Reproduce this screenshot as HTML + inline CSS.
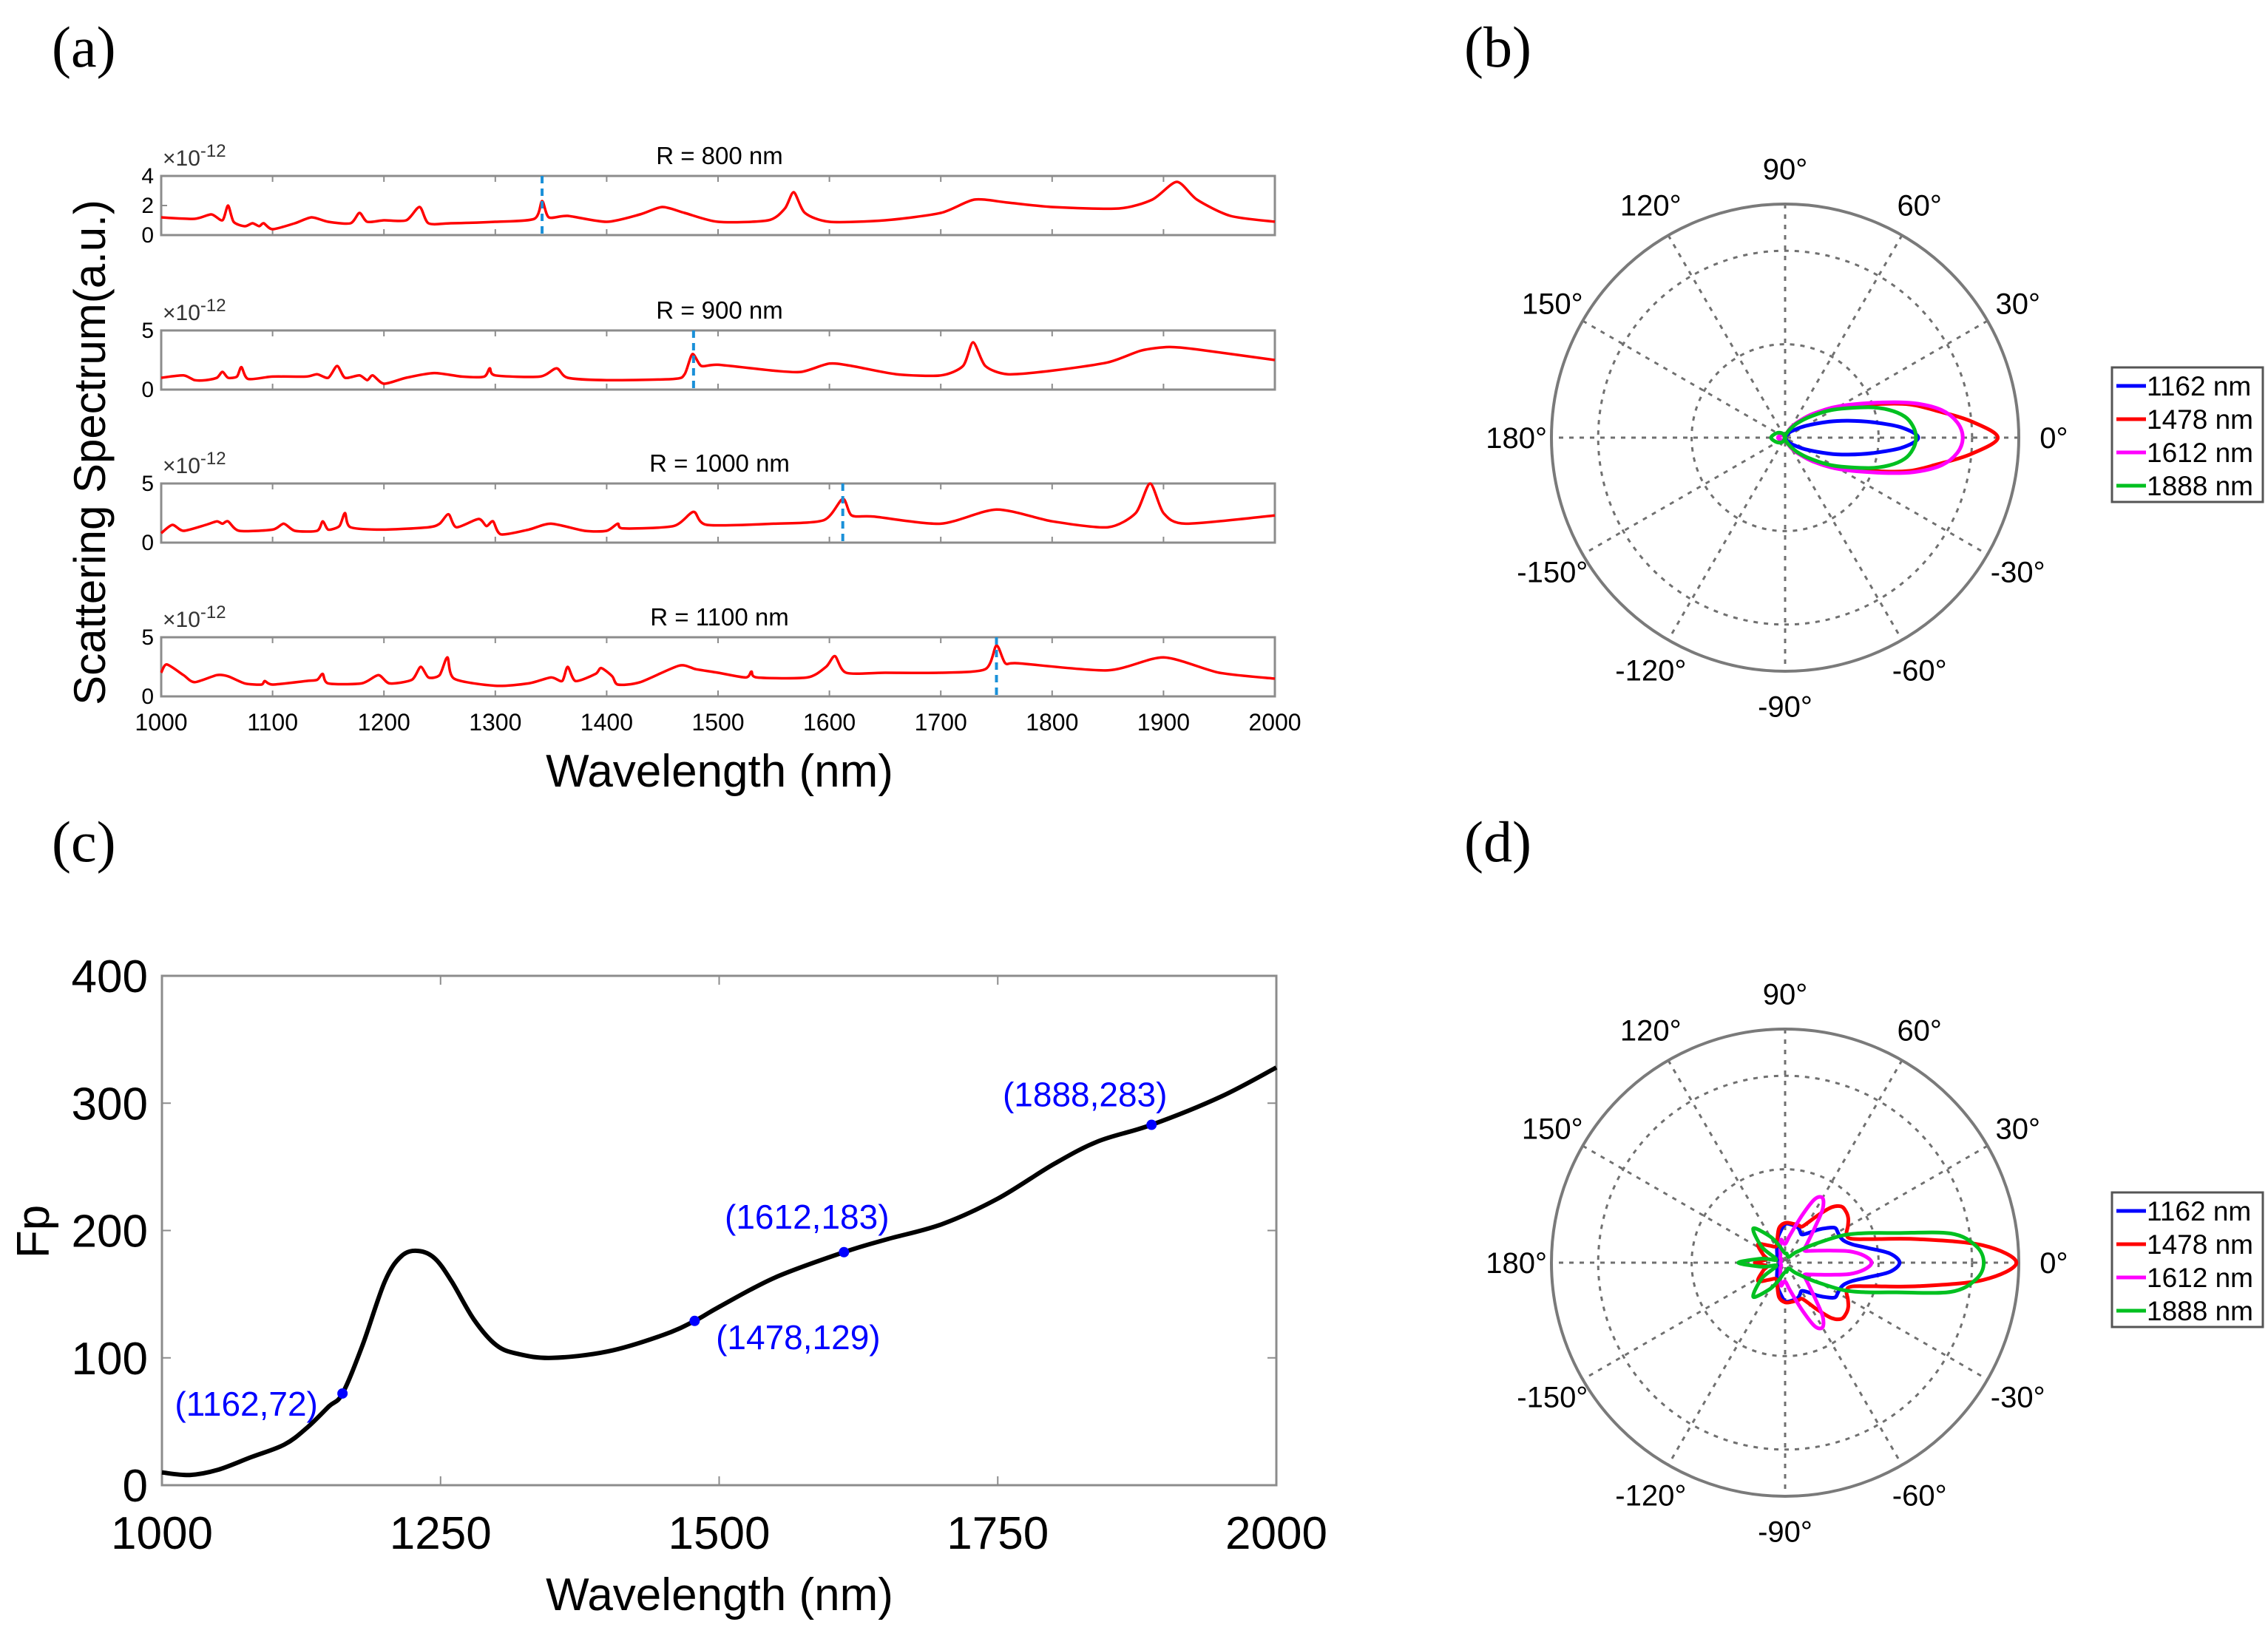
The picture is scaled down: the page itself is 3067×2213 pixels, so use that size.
<!DOCTYPE html>
<html><head><meta charset="utf-8"><style>
html,body{margin:0;padding:0;background:#fff}
svg{display:block}
text{font-family:"Liberation Sans",sans-serif}
.n{font-family:"Liberation Sans Narrow","Liberation Sans",sans-serif}
.pl{font-family:"Liberation Serif",serif;font-size:78px}
</style></head><body>
<svg id="fig" width="3067" height="2213" viewBox="0 0 3067 2213" xmlns="http://www.w3.org/2000/svg">
<text class="pl" x="70" y="90">(a)</text>
<text class="pl" x="1980" y="90">(b)</text>
<text class="pl" x="70" y="1165">(c)</text>
<text class="pl" x="1980" y="1165">(d)</text>
<g id="pa"></g>
<g id="pb"></g>
<g id="pc"></g>
<g id="pd"></g>
</svg>
<script>
// ---------- Panel (a) data ----------
const spec800W=[1000,1030,1045,1055,1060,1065,1075,1082,1088,1092,1100,1120,1135,1150,1170,1178,1185,1200,1220,1232,1240,1260,1300,1335,1342,1348,1365,1400,1430,1450,1470,1500,1545,1560,1568,1578,1600,1650,1700,1730,1760,1800,1860,1890,1912,1930,1960,2000];
const spec800V=[1.2,1.1,1.4,1.0,2.0,0.9,0.6,0.8,0.6,0.8,0.4,0.8,1.2,0.9,0.8,1.5,0.9,1.0,1.0,1.9,0.8,0.8,0.9,1.1,2.3,1.2,1.3,0.9,1.4,1.9,1.5,0.9,1.0,1.8,2.9,1.5,0.9,1.0,1.5,2.4,2.2,1.9,1.8,2.4,3.6,2.4,1.3,0.9];
const spec900W=[1000,1020,1030,1040,1050,1055,1060,1068,1072,1078,1100,1130,1140,1150,1158,1165,1178,1185,1190,1200,1220,1245,1270,1290,1295,1300,1340,1355,1365,1400,1460,1470,1477,1485,1500,1550,1575,1600,1620,1660,1700,1720,1729,1740,1760,1800,1850,1880,1905,1930,2000];
const spec900V=[1.0,1.2,0.8,0.8,1.0,1.5,1.0,1.1,1.9,0.9,1.1,1.1,1.3,1.0,2.0,1.0,1.2,0.8,1.2,0.5,1.0,1.4,1.1,1.1,1.8,1.2,1.1,1.8,1.0,0.8,0.9,1.3,3.0,2.0,2.1,1.6,1.5,2.2,2.0,1.3,1.2,2.0,4.0,2.0,1.3,1.6,2.3,3.3,3.6,3.4,2.5];
const spec1000W=[1000,1010,1020,1040,1050,1055,1060,1070,1100,1110,1120,1140,1145,1150,1160,1165,1170,1200,1240,1250,1258,1265,1285,1292,1298,1305,1330,1350,1380,1400,1410,1415,1460,1478,1490,1550,1595,1612,1620,1640,1700,1750,1800,1850,1875,1888,1900,1920,2000];
const spec1000V=[0.8,1.5,1.0,1.5,1.8,1.6,1.8,1.0,1.1,1.6,1.0,1.0,1.8,1.1,1.4,2.5,1.3,1.1,1.3,1.6,2.4,1.3,2.0,1.4,1.8,0.7,1.1,1.6,1.0,1.0,1.6,1.2,1.4,2.6,1.5,1.6,1.9,3.7,2.3,2.2,1.6,2.8,1.8,1.3,2.5,5.0,2.5,1.6,2.3];
const spec1100W=[1000,1005,1020,1030,1050,1060,1075,1090,1093,1100,1130,1140,1145,1150,1180,1195,1205,1225,1233,1240,1250,1257,1263,1300,1330,1350,1360,1365,1372,1390,1395,1405,1410,1430,1465,1480,1500,1525,1530,1535,1580,1597,1605,1615,1650,1700,1740,1750,1758,1770,1850,1900,1950,2000];
const spec1100V=[2.0,2.7,1.8,1.2,1.8,1.7,1.1,1.0,1.3,1.0,1.3,1.4,1.9,1.1,1.1,1.8,1.1,1.4,2.5,1.6,1.8,3.3,1.5,0.9,1.1,1.6,1.3,2.5,1.3,1.9,2.4,1.7,1.0,1.2,2.6,2.3,2.0,1.6,2.1,1.6,1.6,2.5,3.4,2.0,2.0,2.0,2.3,4.3,2.8,2.8,2.2,3.3,2.0,1.5];
const specTitles=["R = 800 nm","R = 900 nm","R = 1000 nm","R = 1100 nm"];
const specYMax=[4,5,5,5];
const specYTicks=[[0,2,4],[0,5],[0,5],[0,5]];
const markLines=[1342,1478,1612,1750];
const specXTicks=[1000,1100,1200,1300,1400,1500,1600,1700,1800,1900,2000];

// ---------- Panel (c) data ----------
const fpW=[1000,1025,1050,1080,1110,1130,1150,1162,1180,1200,1215,1230,1245,1260,1280,1300,1320,1350,1400,1450,1478,1500,1550,1612,1650,1700,1750,1800,1840,1888,1950,2000];
const fpV=[10,8,12,22,32,45,62,72,110,160,180,184,178,160,130,110,103,100,105,118,129,140,163,183,193,205,225,252,270,283,305,328];
const fpMarkW=[1162,1478,1612,1888];
const fpMarkV=[72,129,183,283];
const fpYTicks=[0,100,200,300,400];
const fpXTicks=[1000,1250,1500,1750,2000];

// ---------- Polar data (r normalised to outer circle) ----------
const polAng=[0,5,10,15,20,30,40,50,60,70,80,90,120,150,180];
const polB_1162=[0.57,0.50,0.38,0.28,0.20,0.10,0.05,0.03,0.01,0.01,0,0,0.01,0.02,0.03];
const polB_1478=[0.91,0.80,0.66,0.55,0.42,0.26,0.16,0.09,0.05,0.02,0.01,0,0.01,0.02,0.03];
const polB_1612=[0.76,0.74,0.68,0.57,0.44,0.27,0.16,0.09,0.05,0.02,0.01,0,0.01,0.02,0.03];
const polB_1888=[0.56,0.55,0.52,0.46,0.38,0.24,0.14,0.08,0.04,0.02,0.01,0,0.02,0.04,0.06];
const polDAng=[0,5,10,15,20,25,30,35,40,45,50,55,60,65,70,80,90,100,110,120,133,146,160,170,180];
const polD_1162=[0.49,0.45,0.36,0.30,0.27,0.26,0.26,0.26,0.23,0.20,0.17,0.15,0.14,0.15,0.16,0.165,0.165,0.13,0.10,0.07,0.05,0.04,0.03,0.02,0.02];
const polD_1478=[0.99,0.85,0.58,0.39,0.30,0.29,0.31,0.33,0.34,0.34,0.31,0.25,0.20,0.17,0.17,0.17,0.17,0.15,0.10,0.08,0.10,0.14,0.10,0.08,0.13];
const polD_1612=[0.37,0.34,0.28,0.20,0.15,0.12,0.10,0.10,0.12,0.15,0.20,0.28,0.32,0.30,0.22,0.12,0.08,0.10,0.06,0.04,0.03,0.02,0.02,0.02,0.02];
const polD_1888=[0.85,0.82,0.72,0.49,0.37,0.28,0.18,0.12,0.08,0.06,0.04,0.03,0.03,0.03,0.03,0.04,0.04,0.05,0.08,0.13,0.20,0.12,0.04,0.10,0.20];
const polLabels=["1162 nm","1478 nm","1612 nm","1888 nm"];
const polColors=["#0000ff","#ff0000","#ff00ff","#00c020"];

const NS="http://www.w3.org/2000/svg";
function mk(tag,attrs,parent,txt){const e=document.createElementNS(NS,tag);for(const k in attrs)e.setAttribute(k,attrs[k]);if(txt!==undefined)e.textContent=txt;parent.appendChild(e);return e;}
function smooth(P,closed,k){k=k||6;const n=P.length;let d='M'+P[0][0].toFixed(1)+' '+P[0][1].toFixed(1);
  const last=closed?n:n-1;
  for(let i=0;i<last;i++){const g=j=>closed?P[(j+n)%n]:P[Math.max(0,Math.min(n-1,j))];
    const p0=g(i-1),p1=g(i),p2=g(i+1),p3=g(i+2);
    d+=' C'+(p1[0]+(p2[0]-p0[0])/k).toFixed(1)+' '+(p1[1]+(p2[1]-p0[1])/k).toFixed(1)+' '+(p2[0]-(p3[0]-p1[0])/k).toFixed(1)+' '+(p2[1]-(p3[1]-p1[1])/k).toFixed(1)+' '+p2[0].toFixed(1)+' '+p2[1].toFixed(1);}
  return d;}

// ----- Panel a -----
(function(){
const g=document.getElementById('pa');
const L=218,R=1724;
const tops=[238,447,654,862],H=80;
const xs=w=>L+(w-1000)/1000*(R-L);
const specW=[spec800W,spec900W,spec1000W,spec1100W];
const specV=[spec800V,spec900V,spec1000V,spec1100V];
for(let i=0;i<4;i++){
  const T=tops[i],B=T+H;
  const ys=v=>B-v/specYMax[i]*H;
  const sg=mk('g',{},g);
  
  
  const box=mk('rect',{x:L,y:T,width:R-L,height:H,fill:'none',stroke:'#8c8c8c','stroke-width':3},sg);
  
  
  specXTicks.forEach(t=>{const x=xs(t);mk('line',{x1:x,x2:x,y1:B,y2:B-8,stroke:'#8c8c8c','stroke-width':2},sg);mk('line',{x1:x,x2:x,y1:T,y2:T+8,stroke:'#8c8c8c','stroke-width':2},sg);});
  specYTicks[i].forEach(t=>{const y=ys(t);mk('line',{x1:L,x2:L+8,y1:y,y2:y,stroke:'#8c8c8c','stroke-width':2},sg);
    const tl=mk('text',{x:L-10,y:y+10,'font-size':30,'text-anchor':'end',class:'n'},sg,String(t));
    
    });
  const ex=mk('text',{x:220,y:T-14,'font-size':30,class:'n',fill:'#333'},sg);
  
  
  ex.innerHTML='×10<tspan dy="-12" font-size="24">-12</tspan>';
  const tt=mk('text',{x:973,y:T-16,'font-size':33,'text-anchor':'middle',class:'n'},sg,specTitles[i]);
  
  
  const P=specW[i].map((w,j)=>[xs(w),ys(specV[i][j])]);
  const p=mk('path',{d:smooth(P,false,8),fill:'none',stroke:'#ff0000','stroke-width':3.5,'stroke-linejoin':'round'},sg);
  
  
  const ml=mk('line',{x1:xs(markLines[i]),x2:xs(markLines[i]),y1:T,y2:B,stroke:'#1a90d8','stroke-width':4,'stroke-dasharray':'10 7'},sg);
  
  
}
specXTicks.forEach(t=>{const tl=mk('text',{x:xs(t),y:988,'font-size':32,'text-anchor':'middle',class:'n'},g,String(t));
  
  });
const xt=mk('text',{x:973,y:1064,'font-size':62,'text-anchor':'middle'},g,'Wavelength (nm)');


const yt=mk('text',{x:0,y:0,'font-size':60,'text-anchor':'middle',transform:'translate(142,612) rotate(-90)'},g,'Scattering Spectrum(a.u.)');


})();

// ----- Panel c -----
(function(){
const g=document.getElementById('pc');
const L=219,R=1726,T=1320,B=2009;
const xs=w=>L+(w-1000)/1000*(R-L);
const ys=v=>B-v/400*(B-T);
const box=mk('rect',{x:L,y:T,width:R-L,height:B-T,fill:'none',stroke:'#8c8c8c','stroke-width':3},g);


fpXTicks.forEach(t=>{const x=xs(t);mk('line',{x1:x,x2:x,y1:B,y2:B-12,stroke:'#8c8c8c','stroke-width':2},g);mk('line',{x1:x,x2:x,y1:T,y2:T+12,stroke:'#8c8c8c','stroke-width':2},g);
  const tl=mk('text',{x:x,y:2095,'font-size':62,'text-anchor':'middle',class:'n'},g,String(t));
  
  });
fpYTicks.forEach(t=>{const y=ys(t);mk('line',{x1:L,x2:L+12,y1:y,y2:y,stroke:'#8c8c8c','stroke-width':2},g);mk('line',{x1:R,x2:R-12,y1:y,y2:y,stroke:'#8c8c8c','stroke-width':2},g);
  const tl=mk('text',{x:200,y:y+22,'font-size':62,'text-anchor':'end',class:'n'},g,String(t));
  
  });
const P=fpW.map((w,i)=>[xs(w),ys(fpV[i])]);
const c=mk('path',{d:smooth(P,false,6),fill:'none',stroke:'#000','stroke-width':6},g);


const off=[[-130,30],[140,38],[-50,-32],[-90,-25]];
fpMarkW.forEach((w,i)=>{
  const m=mk('circle',{cx:xs(w),cy:ys(fpMarkV[i]),r:7,fill:'#0000ff'},g);
  
  
  const t=mk('text',{x:xs(w)+off[i][0],y:ys(fpMarkV[i])+off[i][1],'font-size':46,'text-anchor':'middle',fill:'#0000ff',class:'n'},g,'('+w+','+fpMarkV[i]+')');
  
  
});
const xt=mk('text',{x:973,y:2178,'font-size':62,'text-anchor':'middle'},g,'Wavelength (nm)');


const yt=mk('text',{x:0,y:0,'font-size':62,'text-anchor':'middle',transform:'translate(66,1666) rotate(-90)'},g,'Fp');


})();

// ----- Polar -----
function polar(id,cx,cy,ang,series,legY){
  const g=document.getElementById(id),Rr=316;
  [0.4,0.8].forEach(f=>{const c=mk('circle',{cx:cx,cy:cy,r:Rr*f,fill:'none',stroke:'#707070','stroke-width':3,'stroke-dasharray':'6 8'},g);
    
    });
  for(let a=0;a<180;a+=30){const r=a*Math.PI/180;
    const l=mk('line',{x1:cx+Rr*Math.cos(r),y1:cy-Rr*Math.sin(r),x2:cx-Rr*Math.cos(r),y2:cy+Rr*Math.sin(r),stroke:'#707070','stroke-width':3,'stroke-dasharray':'6 8'},g);
    
    }
  const oc=mk('circle',{cx:cx,cy:cy,r:Rr,fill:'none',stroke:'#7a7a7a','stroke-width':4},g);
  
  
  const labs=[0,30,60,90,120,150,180,-150,-120,-90,-60,-30];
  labs.forEach(a=>{const r=a*Math.PI/180,rr=Rr*1.15;
    const t=mk('text',{x:cx+rr*Math.cos(r),y:cy-rr*Math.sin(r)+14,'font-size':40,'text-anchor':'middle',class:'n'},g,a+'°');
    
    });
  series.forEach((s,k)=>{
    const pts=[];
    for(let i=0;i<ang.length;i++)pts.push([ang[i],s[i]]);
    for(let i=ang.length-2;i>0;i--)pts.push([-ang[i],s[i]]);
    const P=pts.map(p=>{const r=p[0]*Math.PI/180;return [cx+Rr*p[1]*Math.cos(r),cy-Rr*p[1]*Math.sin(r)];});
    const p=mk('path',{d:smooth(P,true,6)+' Z',fill:'none',stroke:polColors[k],'stroke-width':5,'stroke-linejoin':'round'},g);
    
    
  });
  const lg=mk('g',{},g);
  
  
  mk('rect',{x:2856,y:legY,width:204,height:182,fill:'#fff',stroke:'#555','stroke-width':3},lg);
  polLabels.forEach((t,k)=>{const y=legY+25+k*45;
    mk('line',{x1:2862,x2:2902,y1:y,y2:y,stroke:polColors[k],'stroke-width':5},lg);
    const e=mk('text',{x:2903,y:y+13,'font-size':37,class:'n'},lg,t);
    
    });
}
polar('pb',2414,592,polAng,[polB_1162,polB_1478,polB_1612,polB_1888],497);
polar('pd',2414,1708,polDAng,[polD_1162,polD_1478,polD_1612,polD_1888],1613);
</script>
</body></html>
